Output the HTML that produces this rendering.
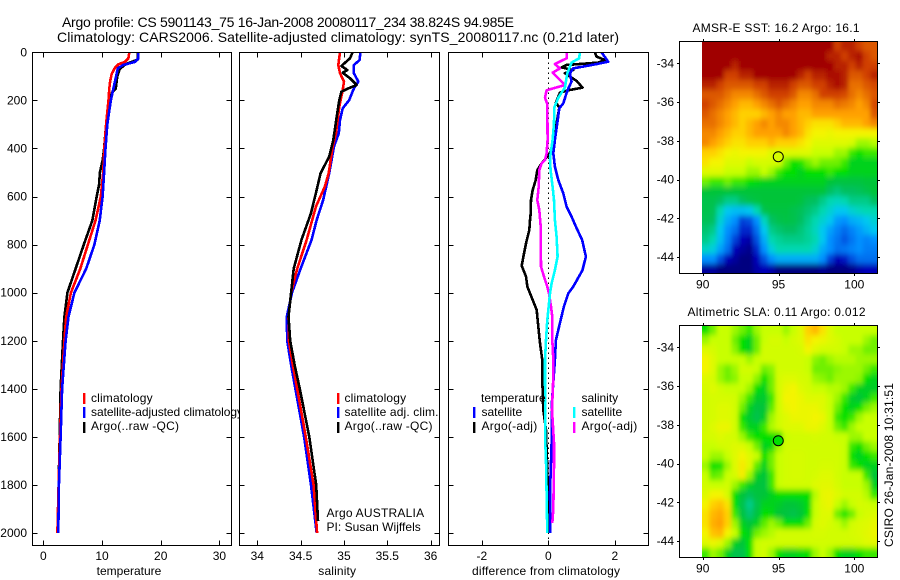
<!DOCTYPE html>
<html><head><meta charset="utf-8"><title>Argo profile</title>
<style>
html,body{margin:0;padding:0;background:#fff}
svg{display:block}
text{font-family:"Liberation Sans",sans-serif;font-size:12px;fill:#000}
.t{font-size:14px}
</style></head>
<body>
<svg id="fig" width="900" height="580" viewBox="0 0 900 580" xmlns="http://www.w3.org/2000/svg">
<defs>
<clipPath id="c1"><rect x="32" y="52" width="200" height="494"/></clipPath>
<clipPath id="c2"><rect x="239" y="52" width="201" height="494"/></clipPath>
<clipPath id="c3"><rect x="448" y="52" width="201" height="494"/></clipPath>
<clipPath id="cm1"><rect x="702" y="41.5" width="175.5" height="231.5"/></clipPath>
<clipPath id="cm2"><rect x="702" y="325.5" width="175.5" height="232"/></clipPath>
<clipPath id="clipLeg"><rect x="0" y="380" width="239" height="60"/></clipPath>
<filter id="soft" filterUnits="userSpaceOnUse" x="660" y="0" width="240" height="580"><feGaussianBlur stdDeviation="2.2 2.8"/></filter>
</defs>
<text class="t" x="62" y="27" textLength="452" lengthAdjust="spacing">Argo profile: CS 5901143_75 16-Jan-2008 20080117_234 38.824S 94.985E</text>
<text class="t" x="57" y="42" textLength="562" lengthAdjust="spacing">Climatology: CARS2006. Satellite-adjusted climatology: synTS_20080117.nc (0.21d later)</text>

<g id="p1"></g>
<g clip-path="url(#clipLeg)">
<rect x="83" y="393" width="2.4" height="11" fill="#f00"/>
<rect x="83" y="407" width="2.4" height="11" fill="#00f"/>
<rect x="83" y="422" width="2.4" height="11" fill="#000"/>
<text x="91" y="402" textLength="61.6" lengthAdjust="spacing">climatology</text>
<text x="91" y="416" textLength="152" lengthAdjust="spacing">satellite-adjusted climatology</text>
<text x="91" y="430" textLength="88" lengthAdjust="spacing">Argo(..raw -QC)</text>
</g>
<text x="129" y="575" text-anchor="middle">temperature</text>

<g id="p2"></g>
<g>
<rect x="337" y="393" width="2.4" height="11" fill="#f00"/>
<rect x="337" y="407" width="2.4" height="11" fill="#00f"/>
<rect x="337" y="422" width="2.4" height="11" fill="#000"/>
<text x="344.5" y="402" textLength="61.6" lengthAdjust="spacing">climatology</text>
<text x="344.5" y="416" textLength="94" lengthAdjust="spacing">satellite adj. clim.</text>
<text x="344.5" y="430" textLength="88" lengthAdjust="spacing">Argo(..raw -QC)</text>
</g>
<text x="326.5" y="517" textLength="97.6" lengthAdjust="spacing">Argo AUSTRALIA</text>
<text x="326.5" y="531" textLength="94.3" lengthAdjust="spacing">PI: Susan Wijffels</text>
<text x="318.3" y="575" textLength="37.7" lengthAdjust="spacing">salinity</text>

<g id="p3"></g>
<g>
<text x="481" y="402">temperature</text>
<rect x="473" y="407" width="2.4" height="11" fill="#00f"/>
<text x="481.5" y="416">satellite</text>
<rect x="473" y="422" width="2.4" height="11" fill="#000"/>
<text x="481.5" y="430" textLength="55.7" lengthAdjust="spacing">Argo(-adj)</text>
<text x="581.5" y="402">salinity</text>
<rect x="573" y="407" width="2.4" height="11" fill="#0ff"/>
<text x="581.5" y="416">satellite</text>
<rect x="573" y="422" width="2.4" height="11" fill="#f0f"/>
<text x="581.5" y="430" textLength="55.7" lengthAdjust="spacing">Argo(-adj)</text>
</g>
<text x="472" y="575" textLength="148" lengthAdjust="spacing">difference from climatology</text>

<g id="m1"></g>
<text x="692.5" y="32" textLength="167" lengthAdjust="spacing">AMSR-E SST: 16.2  Argo: 16.1</text>
<g id="m2"></g>
<text x="687.5" y="316" textLength="178" lengthAdjust="spacing">Altimetric SLA: 0.11  Argo: 0.012</text>
<text transform="translate(893 547) rotate(-90)" textLength="164" lengthAdjust="spacing">CSIRO 26-Jan-2008 10:31:51</text>
</svg>
<script>
// ---- chart data ----
const depthTicks = [0,200,400,600,800,1000,1200,1400,1600,1800,2000];
const tempTicks = [0,10,20,30];
const salTicks = [34,34.5,35,35.5,36];
const diffTicks = [-2,0,2];
const lonTicks = [90,95,100];
const latTicks = [-34,-36,-38,-40,-42,-44];

const redTempDepth = [0,25,40,50,65,90,120,150,200,300,400,500,600,700,800,900,1000,1100,1200,1400,1600,1800,2000];
const redTemp = [14.65,14.5,13.9,12.8,12.2,11.65,11.4,11.25,11.1,10.7,10.4,10.2,9.8,8.9,7.6,6.3,4.7,3.9,3.6,3.1,2.85,2.6,2.4];
const blueTempDepth = [0,25,40,53,67,88,145,200,300,400,500,600,700,800,900,1000,1100,1200,1400,1600,1800,2000];
const blueTemp = [16.2,16.2,15.6,13.6,12.7,12.5,12,11.5,10.9,10.6,10.35,10.1,9.6,8.7,7.3,5.3,4.3,3.8,3.2,2.95,2.65,2.55];
const blackTempDepth = [0,30,50,70,100,150,170,300,400,450,500,550,600,700,800,900,1000,1100,1200,1400,1600,1800,1950];
const blackTemp = [16.1,16.1,14,13,12.6,12.35,11.65,10.7,10.35,10.1,9.65,9.5,9.1,8.35,6.9,5.5,4.1,3.6,3.35,2.95,2.8,2.6,2.45];

const redSalDepth = [0,53,87,122,157,226,337,392,503,558,641,780,900,1000,1100,1200,1300,1400,1600,1800,2000];
const redSal = [34.954,34.935,34.954,35,34.985,34.946,34.908,34.87,34.824,34.78,34.677,34.57,34.46,34.39,34.36,34.365,34.41,34.46,34.56,34.65,34.69];
const blueSalDepth = [0,32,53,87,122,150,199,233,282,337,392,503,614,697,780,900,1000,1100,1200,1300,1400,1600,1800,2000];
const blueSal = [35.19,35.18,35.115,35.115,35.165,35.115,35.06,34.985,34.954,34.94,34.885,34.83,34.76,34.685,34.627,34.5,34.4,34.34,34.345,34.39,34.44,34.54,34.62,34.685];
const blackSalDepth = [0,25,57,74,85,108,136,150,164,199,268,365,434,503,572,669,780,900,1000,1100,1200,1300,1400,1600,1800,1950];
const blackSal = [35.1,35.07,34.97,35.04,34.985,35.07,35.147,35.05,34.97,34.946,34.916,34.877,34.83,34.73,34.685,34.62,34.51,34.42,34.39,34.36,34.38,34.43,34.49,34.6,34.68,34.7];

const blueDiffDepth = [0,25,39,49,67,87,122,150,178,212,233,295,365,420,476,531,587,642,684,725,781,850,906,933,975,1003,1058,1127,1197,1280,1475,1625,1833,2000];
const blueDiff = [1.6,1.73,1.8,1.45,0.75,0.65,0.7,0.6,0.53,0.45,0.33,0.27,0.2,0.15,0.2,0.3,0.45,0.55,0.7,0.83,1.02,1.13,1.03,0.92,0.75,0.6,0.47,0.35,0.23,0.2,0.1,0.1,0.05,0.06];
const blackDiffDepth = [0,18,32,43,53,63,74,87,119,147,158,168,209,230,295,365,420,462,490,531,573,615,670,698,740,795,850,888,933,975,1030,1072,1141,1210,1280,1417,1488,1571,1833,1917,2000];
const blackDiff = [1.4,1.45,1.7,1.5,0.55,0.4,0.75,0.5,0.85,1.03,0.6,0.35,0.23,0.33,0.25,0.15,0.05,-0.2,-0.33,-0.38,-0.47,-0.52,-0.53,-0.55,-0.57,-0.67,-0.75,-0.8,-0.67,-0.63,-0.47,-0.35,-0.3,-0.25,-0.18,-0.17,-0.15,-0.07,-0.01,0,0.03];
const cyanDiffDepth = [0,25,43,67,87,147,189,230,295,365,420,448,490,559,615,698,767,850,906,961,1003,1044,1113,1197,1280,1363,1488,1625,1700,1833,2000];
const cyanDiff = [0.95,0.93,0.7,0.63,0.57,0.5,0.3,0.18,0.17,0.13,0.07,0.05,0.07,0.13,0.17,0.2,0.25,0.28,0.2,0.1,0.05,0.02,-0.03,-0.07,-0.1,-0.1,-0.09,-0.09,-0.07,-0.05,-0.03];
const magentaDiffDepth = [0,25,49,67,85,108,136,158,189,216,365,420,448,462,490,559,615,656,725,892,933,975,1003,1058,1100,1197,1280,1350,1488,1625,1720,1900,1958];
const magentaDiff = [0.55,0.55,0.2,0.35,0.13,0.3,0.5,-0.05,-0.1,-0.03,-0.02,-0.05,-0.1,-0.2,-0.27,-0.29,-0.33,-0.27,-0.23,-0.22,-0.13,-0.03,0.02,0.08,0.12,0.12,0.15,0.15,0.11,0.17,0.17,0.15,0.12];

// map grids are in colour-scale levels (0 navy ... 16 dark red), 24 columns x 24 rows, north to south
const colourStops = ["#000080","#0000b8","#0050e0","#0090ff","#00c8f0","#00d8b0","#00c060","#00c438","#00e000","#70f000","#c8ff00","#f4f400","#ffd000","#ffa000","#e87000","#d04000","#a00000"];
const sstGrid = [
16,16,16,16,16,16,16,16,16,16,16,16,16,16,16,16,16,16,15,15.5,15.5,15,14.5,14.5,
16,16,16,16,16,16,16,16,16,16,16,16,16,16,16,16,16,15.5,15.5,15,15.5,15.8,15,14.5,
16,16,16,16,15.5,16,16,16,16,16,16,16,16,16,16,16,16,16,15.5,15.5,15,15.5,15,15,
16,16,16,15,15,15.5,15.5,16,16,16,16,16,16,15.5,15,15.5,15.5,15.8,15.8,15.5,14.5,14.5,15,15.5,
15.5,15.5,15,14.5,14.5,14.5,14.5,15,15,15.5,15.5,15.5,15,14.5,14.5,15,15,15.5,15.8,15.5,14,14,14.5,14.8,
14.5,14.5,14.5,14,13.5,13.5,13.5,14,14.5,15,15,15,14.5,13.5,13.5,14,15,15,15,14.8,14,13.5,14,14.5,
15,14.5,14,13.5,13,12.5,12.5,13,13.5,14,14.5,14,13.5,13,13,13.5,13.5,13.5,14,13.8,13.5,13,13.5,14.8,
14.5,14,13.5,13,12.5,12,12,12,12.5,13,13.5,13,13,12.5,12.5,13,13,13,13,13,13,13,13,14.5,
14,14,13.5,13,12.5,12,12.5,13,13.5,13,13.5,13.5,13,12.5,12,11.5,11.5,11.5,12,12.5,12.5,12.5,13,13.5,
13.5,13.5,13,12.5,12,12,12.5,13,13,13,13,13.5,13,12.5,11.5,11,11,10.8,11,11,11,11,11,11,
13.5,13,12.5,12,11.5,11.5,12,12,12,12.5,12,12,12,11.5,11,10.5,10.5,10.5,10.5,10.5,10.3,9.5,9.5,9.8,
12,12,11.5,11,10.8,11,11,11,11,10.5,10.5,10.5,10.5,10.5,10.5,10,10,10,9.5,9.5,8.5,8,8.5,8.5,
11.5,11,11,10.5,10.5,10.5,10,10.3,10.3,10.3,10.3,9,8,8.3,9,9.5,9,9,9,8.5,7.5,7.5,7.5,7.5,
10.5,10.5,10.5,10,10,10,9.5,9.5,10,9.5,8.5,8,8,7.5,8,8,8,8.5,8,8,7.5,7.5,7.5,7.5,
9,8.5,8.5,9,8.5,8.5,8,7.8,7.5,7.5,7.5,7.5,7.5,7.5,7.5,7.5,7.5,7,6.8,6.8,6.8,6.8,7,7,
7,7,7,7,7,7,7,7,7,7,7,7,7,7,7,7,7,6,5.7,6,6,6.2,6.5,7,
6.5,6.5,6,5.5,5.5,6,6.5,6.8,7,7,7,7,7,6.8,6.2,6,5.5,5,4.8,5,5.5,5.5,5.5,6,
6.5,6.3,5,4,3.8,3.8,4,5,6.5,6.8,6.8,6.8,6.5,6.2,5.8,5.5,5,4.5,4,4,4.5,4.8,5,5,
6.3,6,4.5,3.5,3,1.8,2,3,4.8,6,6.5,6.7,6.5,6,5.5,5,4.5,4,3.2,3,3.5,3.7,4,4.5,
5.8,5.5,4,3,2.5,1.5,1.5,2.5,4,5.5,5.8,6,6,5.7,5.3,4.8,4,3.3,2.8,2.4,2.8,3.2,3.6,4,
5.5,5,3.8,2.8,1.8,1,0.7,2,3.5,5,5.3,5.5,5.5,5.5,5.3,5,4,3,2.6,2.1,2.6,3,2.8,3,
4.7,4.3,3.3,2.5,1,0.5,0.2,1.5,3,4.3,5,5,5,5,5,4.5,3.5,3,2.5,2.6,2.8,3,2.7,2.7,
3,3,2,1,0.5,0,0,1,2,3,3.5,3.5,3.5,3.5,3.5,3.5,3,1.8,1,1.3,2,2.5,2.5,2.5,
0.5,0.5,0,0,0,0,0,0.7,1,0.7,0,0,0,0,0,0,0.3,0,0,0,0.2,0.7,1,1];
const slaGrid = [
8,9,10,10,9.5,9,8.5,9.5,10,10,10,9.5,10,10.5,12,12.5,11.5,10.5,10,10,10,10,10,10,
9.5,10,10,10,9,8,7.5,9,10,10.3,10.3,10,10.3,10.5,11.5,11,10.8,10.5,10.3,10,10,10,9.5,9,
10.5,10.3,10,10,9.3,8,7.5,9,10.2,10.2,10.2,10.2,10.2,10.3,11,10.5,10.2,10.2,10.2,10,9.5,9.5,9,9,
11,10.5,10,10,10,10,9.5,10,10.2,10.2,10.2,10.2,10.2,10.2,10,9.3,9,9.5,9.8,9.8,9.8,9.5,9.5,9.5,
11,10.5,9.5,9,9.5,10.2,10.2,10,9,9.3,10.2,10.2,10.2,10.2,10,9,9,9,9.3,9.5,9.5,9.5,9,8.5,
10.5,10.3,9.5,9,9.3,10,10,9.3,8,9,10.3,10.5,10.5,10.3,10.2,9.5,9.3,9,9.5,9.5,9.5,9.3,8,7.5,
10.3,10.5,10.2,10,10,10,9.5,8,7.5,9,10.3,10.8,11,10.5,10.3,10,10,9.8,9.8,9.5,8.5,7.5,7.3,7.3,
10.2,10.3,10.3,10.3,10.2,9.5,8.5,7.3,7.2,8.5,10.2,11,11,10.8,10.5,10.5,10.5,10,9.5,8.5,7.3,7,7.5,8.5,
10.2,10.3,10.5,10.5,10.2,9,7.5,6.8,7,8.8,10.2,10.8,11,10.8,10.8,10.8,10.5,10,9,8,7.5,8,9,9.5,
10.2,10.3,10.5,10.5,10.2,8,7.2,6.5,7.3,9.5,10.2,10.5,10.8,10.8,10.8,11,10.8,10,8.5,8,8.5,9.5,10,10,
10.2,10.5,10.8,10.8,10.2,8.5,7.5,7.5,8.5,9.7,10.2,10.5,10.5,10.5,10.8,10.8,10.5,10,9,8.5,9.5,10,10,10,
10.3,10.3,10.5,10.3,10.2,9.5,8.5,8,8,8,8,10,10.2,10.2,10.2,10.3,10.2,10.2,10,10,9.5,9.5,10,10,
10,10,10.2,10.3,10.5,10.5,10,9,7.5,7.8,9.5,10.2,10.2,10.2,10.2,10.2,10.2,10.2,10.2,10,8.5,8,9,9.5,
10,9.5,9.5,10,10.5,11,10.5,10,8,9,10,10.2,10.3,10.3,10.2,10.2,10.2,10.2,10.2,10,8,7.5,8,8.5,
9.5,8,8.2,9.5,10.5,11.3,10.5,8.8,7.5,9,10,10.2,10.3,10.3,10.2,10.2,10.3,10.3,10.2,10,8.5,8,7.5,7.5,
10,8.8,9,10,10.3,11.2,9.5,7.5,7,8.5,10,10.2,10.3,10.3,10.2,10.3,10.5,10.5,10.2,10,10,10,8.5,7,
10.2,10,10,10.2,9.5,8.5,7.5,7,6.8,8.5,10,10.2,10.2,10.2,10.2,10.5,10.6,10.6,10.3,10,10,10,9.5,7.5,
10.5,11,11,10.3,8,7,6.3,6.8,7,7.5,8,8,8,8,8,9.8,10.7,10.8,10.5,10.2,10.2,10.2,9.8,8.5,
11,12,12.3,11.5,8,6.5,5.5,6.5,7.5,7.5,7.3,7,7,7.2,7.8,10,10.6,10.8,10,9.5,10,10.3,10.2,10,
11.5,12.5,12.8,12,8.5,6.8,5.8,6.8,8,7.8,7,6.8,6.5,7,8,10,10.5,10.5,9,8.3,9,10,10.3,10.4,
11.5,12.7,13,12,9.5,7.5,7,7.5,8.8,9.5,9,8,8,8,9,10.3,10.5,10.3,10,9.5,10.2,10.4,10.5,10.7,
11,12.3,12.5,11,10,8,7.5,9,9.5,9.8,10.2,10.2,10.2,10.2,10.2,10.3,10.3,10.2,10.2,10.2,10.3,10.4,10.6,10.8,
10.5,10.8,10.5,9.5,7.5,7,8,10,10.2,10.2,10.2,10.2,10.2,10.2,10.2,10.2,10.2,10.2,10.2,10.2,10.2,10.3,10.5,10.6,
8.5,9.5,9,7.5,6.5,6.5,8,10,10.2,9.5,8,7.5,7.5,7.8,8,9.5,10,9.5,8,7.5,7.5,8,8.5,8.5];
const gridCols = 24;
const gridRows = 24;
const argoProfileLon = 94.985;
const argoProfileLat = -38.824;
const argoSstLevel = 10.3;
const argoSlaLevel = 8;

// ---- scales ----
const NS = 'http://www.w3.org/2000/svg';
function mk(tag, attrs, parent, txt){
  const e = document.createElementNS(NS, tag);
  for (const k in attrs) e.setAttribute(k, attrs[k]);
  if (txt !== undefined) e.textContent = txt;
  parent.appendChild(e);
  return e;
}
const depthY = d => 52.3 + d * 0.2404;
const tempX = v => 43.3 + v * 5.87;
const salX = v => 257.3 + (v - 34) * 86.67;
const diffX = v => 548.3 + v * 33.25;
const lonX = v => 702.7 + (v - 90) * 15.16;
const latY1 = v => 63.3 + (-34 - v) * 19.37;
const latY2 = v => 347.3 + (-34 - v) * 19.37;

function colour(level){
  const l = Math.max(0, Math.min(colourStops.length - 1, level));
  const i = Math.min(colourStops.length - 2, Math.floor(l));
  const f = l - i;
  const p = s => [1,3,5].map(n => parseInt(s.substr(n,2),16));
  const a = p(colourStops[i]), b = p(colourStops[i+1]);
  return 'rgb(' + a.map((c,n) => Math.round(c + (b[n]-c)*f)).join(',') + ')';
}

function profilePanel(g, left, right, xFn, xTicks, fmt, yLabels, clip){
  const top = 52.5, bottom = 545.5;
  const bg = mk('rect', {x:left, y:top, width:right-left, height:bottom-top, fill:'#fff'}, g);
  
  
  const marks = mk('g', {'clip-path':'url(#'+clip+')'}, g);
  
  
  const frame = mk('rect', {x:left, y:top, width:right-left, height:bottom-top, fill:'none', stroke:'#000', 'stroke-width':1, 'shape-rendering':'crispEdges'}, g);
  
  
  xTicks.forEach(v => {
    const x = Math.round(xFn(v)) + 0.5;
    const t1 = mk('path', {d:'M'+x+' '+top+'V'+(top+5)+'M'+x+' '+bottom+'V'+(bottom-5), stroke:'#000', fill:'none', 'shape-rendering':'crispEdges'}, g);
    
    
    const lb = mk('text', {x:xFn(v), y:560, 'text-anchor':'middle'}, g, fmt(v));
    
    
  });
  depthTicks.forEach(d => {
    const y = Math.round(depthY(d)) + 0.5;
    const t2 = mk('path', {d:'M'+left+' '+y+'H'+(left+5)+'M'+right+' '+y+'H'+(right-5), stroke:'#000', fill:'none', 'shape-rendering':'crispEdges'}, g);
    
    
    if (yLabels) {
      const lb = mk('text', {x:27, y:depthY(d)+4, 'text-anchor':'end'}, g, String(d));
      
      
    }
  });
  return marks;
}

function series(parent, name, depths, values, xFn, col){
  const pts = values.map((v,i) => xFn(v).toFixed(1) + ',' + depthY(depths[i]).toFixed(1)).join(' ');
  const l = mk('polyline', {points:pts, fill:'none', stroke:col, 'stroke-width':2.6, 'stroke-linejoin':'round', 'shape-rendering':'crispEdges'}, parent);
  
  
}

// ---- profile panels ----
const fmtPlain = v => String(v);
const m1 = profilePanel(document.getElementById('p1'), 32.5, 231.5, tempX, tempTicks, fmtPlain, true, 'c1');
series(m1, 'argo-temperature-line', blackTempDepth, blackTemp, tempX, '#000');
series(m1, 'climatology-temperature-line', redTempDepth, redTemp, tempX, '#f00');
series(m1, 'satellite-temperature-line', blueTempDepth, blueTemp, tempX, '#00f');

const m2 = profilePanel(document.getElementById('p2'), 239.5, 439.5, salX, salTicks, fmtPlain, false, 'c2');
series(m2, 'satellite-salinity-line', blueSalDepth, blueSal, salX, '#00f');
series(m2, 'climatology-salinity-line', redSalDepth, redSal, salX, '#f00');
series(m2, 'argo-salinity-line', blackSalDepth, blackSal, salX, '#000');

const m3 = profilePanel(document.getElementById('p3'), 448.5, 648.5, diffX, diffTicks, fmtPlain, false, 'c3');
const zero = mk('line', {x1:548.5, x2:548.5, y1:52.5, y2:545.5, stroke:'#000', 'stroke-width':1, 'stroke-dasharray':'1.5 3.5', 'shape-rendering':'crispEdges'}, m3);


series(m3, 'temp-argo-diff-line', blackDiffDepth, blackDiff, diffX, '#000');
series(m3, 'temp-satellite-diff-line', blueDiffDepth, blueDiff, diffX, '#00f');
series(m3, 'sal-argo-diff-line', magentaDiffDepth, magentaDiff, diffX, '#f0f');
series(m3, 'sal-satellite-diff-line', cyanDiffDepth, cyanDiff, diffX, '#0ff');

// ---- maps ----
function mapPanel(g, grid, latY, top, bottom, clip, argoLevel){
  const bgm = mk('rect', {x:679.5, y:top, width:198, height:bottom-top, fill:'#fff'}, g);
  
  
  const clipG = mk('g', {'clip-path':'url(#'+clip+')'}, g);
  
  
  const cells = mk('g', {filter:'url(#soft)'}, clipG);
  const lon0 = lonX(90) - 0.7, lonW = (877.5 - lon0) / gridCols, latH = (bottom - top) / gridRows;
  grid.forEach((v, n) => {
    const c = n % gridCols, r = Math.floor(n / gridCols);
    const ex = c === gridCols - 1 ? 12 : 0.5, ey = r === gridRows - 1 ? 12 : 0.5;
    const xl = c === 0 ? 12 : 0, yt = r === 0 ? 12 : 0;
    const cell = mk('rect', {x:lon0 + c*lonW - xl, y:top + r*latH - yt, width:lonW + ex + xl, height:latH + ey + yt, fill:colour(v)}, cells);
    
    
  });
  const fr = mk('rect', {x:679.5, y:top, width:198, height:bottom-top, fill:'none', stroke:'#000', 'shape-rendering':'crispEdges'}, g);
  
  
  lonTicks.forEach(v => {
    const x = Math.round(lonX(v)) + 0.5;
    const t = mk('path', {d:'M'+x+' '+top+'v-2.5M'+x+' '+bottom+'v2.5', stroke:'#000', fill:'none', 'shape-rendering':'crispEdges'}, g);
    
    
    const lb = mk('text', {x:lonX(v), y:bottom+15, 'text-anchor':'middle'}, g, String(v));
    
    
  });
  latTicks.forEach(v => {
    const y = Math.round(latY(v)) + 0.5;
    const t = mk('path', {d:'M679.5 '+y+'h-2.5M877.5 '+y+'h2.5', stroke:'#000', fill:'none', 'shape-rendering':'crispEdges'}, g);
    
    
    const lb = mk('text', {x:674, y:latY(v)+4, 'text-anchor':'end'}, g, String(v));
    
    
  });
  const dot = mk('circle', {cx:lonX(argoProfileLon), cy:latY(argoProfileLat), r:5, fill:colour(argoLevel), stroke:'#000', 'stroke-width':1}, g);
  
  
}
mapPanel(document.getElementById('m1'), sstGrid, latY1, 41.5, 273.5, 'cm1', argoSstLevel);
mapPanel(document.getElementById('m2'), slaGrid, latY2, 325.5, 557.5, 'cm2', argoSlaLevel);
</script>
</body></html>
